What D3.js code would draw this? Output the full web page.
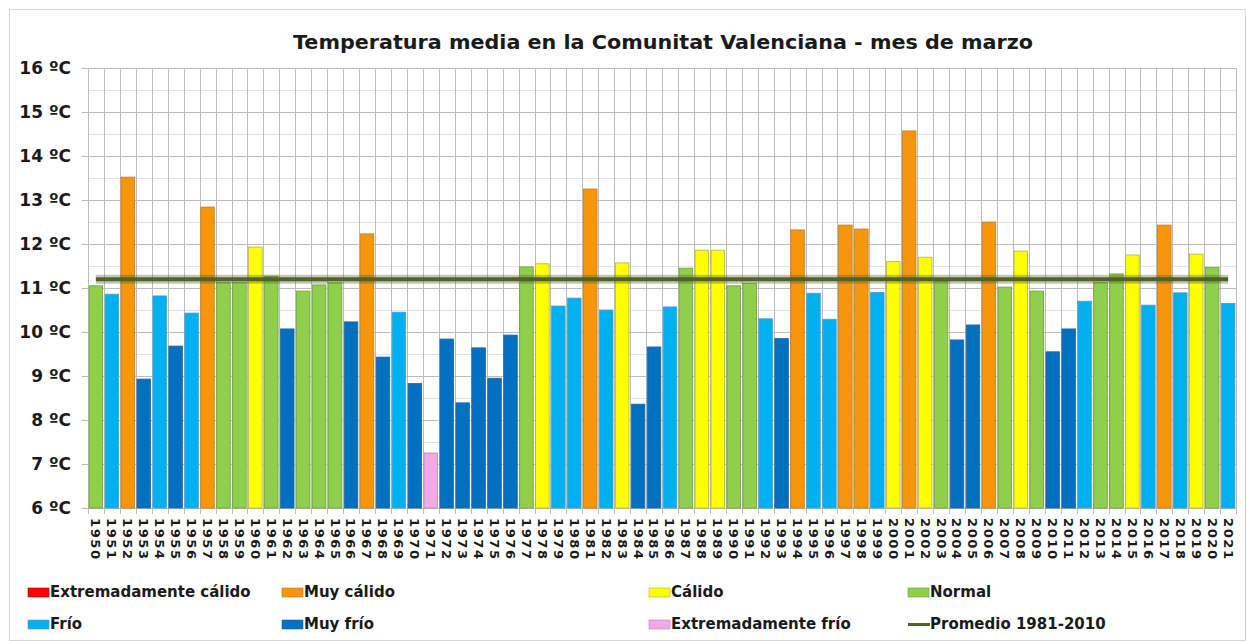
<!DOCTYPE html>
<html>
<head>
<meta charset="utf-8">
<script src="https://cdn.jsdelivr.net/npm/d3@7"></script>
<style>
  body { margin: 0; background: #fff; }
  svg text { font-family: 'DejaVu Sans', Verdana, sans-serif; font-weight: bold; }
</style>
</head>
<body>
<div id="chart"></div>
<script>
var years = d3.range(1950, 2022);

// temperatura media de marzo (ºC)
var temps = [
  11.05, 10.86, 13.52, 8.93, 10.82, 9.68, 10.43, 12.84, 11.13, 11.13,
  11.93, 11.27, 10.07, 10.93, 11.07, 11.12, 10.23, 12.23, 9.43, 10.45,
  8.83, 7.25, 9.84, 8.39, 9.64, 8.95, 9.93, 11.48, 11.55, 10.59,
  10.77, 13.25, 10.50, 11.57, 8.36, 9.66, 10.57, 11.45, 11.86, 11.86,
  11.05, 11.11, 10.30, 9.85, 12.32, 10.88, 10.29, 12.43, 12.34, 10.90,
  11.60, 14.57, 11.70, 11.16, 9.82, 10.16, 12.50, 11.02, 11.84, 10.93,
  9.55, 10.07, 10.70, 11.13, 11.32, 11.75, 10.61, 12.43, 10.89, 11.77,
  11.47, 10.65
];

// carácter de cada año
var classes = [
  'N', 'F', 'MC', 'MF', 'F', 'MF', 'F', 'MC', 'N', 'N',
  'C', 'N', 'MF', 'N', 'N', 'N', 'MF', 'MC', 'MF', 'F',
  'MF', 'EF', 'MF', 'MF', 'MF', 'MF', 'MF', 'N', 'C', 'F',
  'F', 'MC', 'F', 'C', 'MF', 'MF', 'F', 'N', 'C', 'C',
  'N', 'N', 'F', 'MF', 'MC', 'F', 'F', 'MC', 'MC', 'F',
  'C', 'MC', 'C', 'N', 'MF', 'MF', 'MC', 'N', 'C', 'N',
  'MF', 'MF', 'F', 'N', 'N', 'C', 'F', 'MC', 'F', 'C',
  'N', 'F'
];

var promedio = 11.2;

var yTicks = [6, 7, 8, 9, 10, 11, 12, 13, 14, 15, 16];

var legendKeys = ['EC', 'MC', 'C', 'N', 'F', 'MF', 'EF', 'P'];
var legendLabels = ['Extremadamente cálido', 'Muy cálido', 'Cálido', 'Normal',
  'Frío', 'Muy frío', 'Extremadamente frío', 'Promedio 1981-2010'];

var colors = {
  EC: '#ff0000', MC: '#f7960a', C: '#ffff00', N: '#8fcf4c',
  F: '#00b0f0', MF: '#0070c0', EF: '#f2a9e6', P: '#4f6228'
};
var strokes = {
  EC: '#b00000', MC: '#c57a20', C: '#b3b34a', N: '#6f9f40',
  F: '#4d9fc4', MF: '#2f62a0', EF: '#b58bb0', P: '#4f6228'
};

var width = 1246, height = 641;
var plot = {left: 88, right: 1236, top: 68, bottom: 508};

var data = years.map(function(y, i) {
  return {year: y, value: temps[i], cls: classes[i]};
});

var svg = d3.select('#chart').append('svg')
  .attr('width', width)
  .attr('height', height);

svg.append('rect')
  .attr('x', 9.5).attr('y', 9.5)
  .attr('width', width - 10).attr('height', height - 10)
  .attr('fill', '#fff')
  .attr('stroke', '#d6d6d6');

var x = d3.scaleBand()
  .domain(years)
  .range([plot.left, plot.right])
  .paddingInner(0.15)
  .paddingOuter(0.07);

var y = d3.scaleLinear()
  .domain([6, 16])
  .range([plot.bottom, plot.top]);

// rejilla
var grid = svg.append('g');
grid.selectAll('line.minor')
  .data(d3.range(6.5, 16, 1))
  .enter().append('line')
    .attr('x1', plot.left).attr('x2', plot.right)
    .attr('y1', function(d) { return Math.round(y(d)) + 0.5; })
    .attr('y2', function(d) { return Math.round(y(d)) + 0.5; })
    .attr('stroke', '#e4e4e4');
grid.selectAll('line.major')
  .data(yTicks)
  .enter().append('line')
    .attr('x1', plot.left - 6).attr('x2', plot.right)
    .attr('y1', function(d) { return Math.round(y(d)) + 0.5; })
    .attr('y2', function(d) { return Math.round(y(d)) + 0.5; })
    .attr('stroke', '#bdbdbd');

var step = x.step();
grid.selectAll('line.v')
  .data(d3.range(0, years.length + 1))
  .enter().append('line')
    .attr('x1', function(i) { return Math.round(plot.left + i * step) + 0.5; })
    .attr('x2', function(i) { return Math.round(plot.left + i * step) + 0.5; })
    .attr('y1', plot.top)
    .attr('y2', plot.bottom + 6)
    .attr('stroke', '#bdbdbd');

// barras
svg.append('g')
  .selectAll('rect')
  .data(data)
  .enter().append('rect')
    .attr('x', function(d) { return x(d.year); })
    .attr('width', x.bandwidth())
    .attr('y', function(d) { return y(d.value); })
    .attr('height', function(d) { return y(6) - y(d.value); })
    .attr('fill', function(d) { return colors[d.cls]; })
    .attr('stroke', function(d) { return strokes[d.cls]; })
    .attr('stroke-width', 0.8);

// promedio 1981-2010
var x0 = x(years[0]) + x.bandwidth() / 2;
var x1 = x(years[years.length - 1]) + x.bandwidth() / 2;
svg.append('line')
  .attr('x1', x0).attr('x2', x1)
  .attr('y1', y(promedio)).attr('y2', y(promedio))
  .attr('stroke', '#4f6228').attr('stroke-opacity', 0.35)
  .attr('stroke-width', 9);
svg.append('line')
  .attr('x1', x0).attr('x2', x1)
  .attr('y1', y(promedio)).attr('y2', y(promedio))
  .attr('stroke', '#4f6228')
  .attr('stroke-width', 4);

// eje y
svg.append('g')
  .selectAll('text')
  .data(yTicks)
  .enter().append('text')
    .attr('x', 71)
    .attr('y', function(d) { return y(d); })
    .attr('dy', '0.35em')
    .attr('text-anchor', 'end')
    .attr('font-size', 17)
    .attr('fill', '#1a1a1a')
    .text(function(d) { return d + ' ºC'; });

// eje x
svg.append('g')
  .selectAll('text')
  .data(years)
  .enter().append('text')
    .attr('transform', function(d) {
      return 'translate(' + (x(d) + x.bandwidth() / 2) + ',' + (plot.bottom + 10) + ') rotate(90)';
    })
    .attr('dy', '0.35em')
    .attr('font-size', 13)
    .attr('letter-spacing', 1.6)
    .attr('fill', '#1a1a1a')
    .text(function(d) { return d; });

// título
svg.append('text')
  .attr('x', 293)
  .attr('y', 49)
  .attr('font-size', 19.5)
  .attr('textLength', 740)
  .attr('lengthAdjust', 'spacingAndGlyphs')
  .attr('fill', '#1a1a1a')
  .text('Temperatura media en la Comunitat Valenciana - mes de marzo');

// leyenda
var legendX = [28, 282, 649, 908];
var legend = svg.append('g')
  .selectAll('g')
  .data(legendKeys)
  .enter().append('g')
    .attr('transform', function(d, i) {
      return 'translate(' + legendX[i % 4] + ',' + (i < 4 ? 592 : 624) + ')';
    });

legend.append('rect')
  .filter(function(d) { return d !== 'P'; })
  .attr('x', 0).attr('y', -4)
  .attr('width', 21).attr('height', 9)
  .attr('fill', function(d) { return colors[d]; })
  .attr('stroke', function(d) { return strokes[d]; })
  .attr('stroke-width', 0.6);

legend.filter(function(d) { return d === 'P'; })
  .append('line')
  .attr('x1', 0).attr('x2', 22)
  .attr('y1', 0.5).attr('y2', 0.5)
  .attr('stroke', colors.P)
  .attr('stroke-width', 3);

legend.append('text')
  .attr('x', 22)
  .attr('dy', '0.35em')
  .attr('font-size', 15)
  .attr('fill', '#1a1a1a')
  .text(function(d, i) { return legendLabels[legendKeys.indexOf(d)]; });
</script>
</body>
</html>
